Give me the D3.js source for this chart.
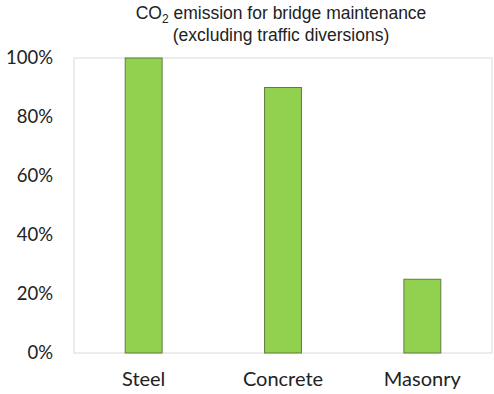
<!DOCTYPE html>
<html>
<head>
<meta charset="utf-8">
<script src="https://cdn.jsdelivr.net/npm/d3@7"></script>
<style>
  html, body { margin: 0; padding: 0; background: #fff; }
  svg { display: block; }
</style>
</head>
<body>
<svg id="chart" width="494" height="394"></svg>
<script>
// Maintenance CO2 emission by bridge type, relative to steel
const categories = ["Steel", "Concrete", "Masonry"];
const values = [1.00, 0.90, 0.25];
const yTicks = [0, 0.2, 0.4, 0.6, 0.8, 1.0];

const svg = d3.select("#chart");
const margin = { top: 58, right: 2, bottom: 41, left: 74 };
const W = 494, H = 394;
const iw = W - margin.left - margin.right;
const ih = H - margin.top - margin.bottom;

const g = svg.append("g").attr("transform", `translate(${margin.left},${margin.top})`);

const x = d3.scaleBand().domain(categories).range([0, iw]).paddingInner(0.735).paddingOuter(0.3675);
const y = d3.scaleLinear().domain([0, 1]).range([ih, 0]);

// plot area frame
g.append("rect")
  .attr("x", 0).attr("y", 0).attr("width", iw).attr("height", ih)
  .attr("fill", "none").attr("stroke", "#d9d9d9").attr("stroke-width", 1);

// bars
g.selectAll("rect.bar")
  .data(categories.map((c, i) => ({ c, v: values[i] })))
  .join("rect")
  .attr("class", "bar")
  .attr("x", d => x(d.c))
  .attr("width", x.bandwidth())
  .attr("y", d => y(d.v))
  .attr("height", d => y(0) - y(d.v))
  .attr("fill", "#92d050")
  .attr("stroke", "#5f7f3f")
  .attr("stroke-width", 1);

// y axis labels
const yAxis = d3.axisLeft(y).tickValues(yTicks).tickFormat(d3.format(".0%")).tickSize(0).tickPadding(21);
const ya = g.append("g").call(yAxis);
ya.select(".domain").remove();
ya.selectAll("text")
  .attr("font-family", "Lato, 'Open Sans', sans-serif")
  .attr("font-size", 18.5)
  .attr("fill", "#222");

// x axis labels
const xAxis = d3.axisBottom(x).tickSize(0).tickPadding(19);
const xa = g.append("g").attr("transform", `translate(0,${ih})`).call(xAxis);
xa.select(".domain").remove();
xa.selectAll("text")
  .attr("font-family", "Lato, 'Open Sans', sans-serif")
  .attr("font-size", 20)
  .attr("fill", "#222");

// title
const titleFont = 17.5;
const title = svg.append("text")
  .attr("x", 281).attr("y", 19)
  .attr("text-anchor", "middle")
  .attr("font-family", "'Liberation Sans', Arial, sans-serif")
  .attr("font-size", titleFont)
  .attr("fill", "#222");
title.append("tspan").text("CO");
title.append("tspan").attr("font-size", 12).attr("dy", 4).text("2");
title.append("tspan").attr("dy", -4).text(" emission for bridge maintenance");
svg.append("text")
  .attr("x", 281).attr("y", 41)
  .attr("text-anchor", "middle")
  .attr("font-family", "'Liberation Sans', Arial, sans-serif")
  .attr("font-size", titleFont)
  .attr("fill", "#222")
  .text("(excluding traffic diversions)");
</script>
</body>
</html>
